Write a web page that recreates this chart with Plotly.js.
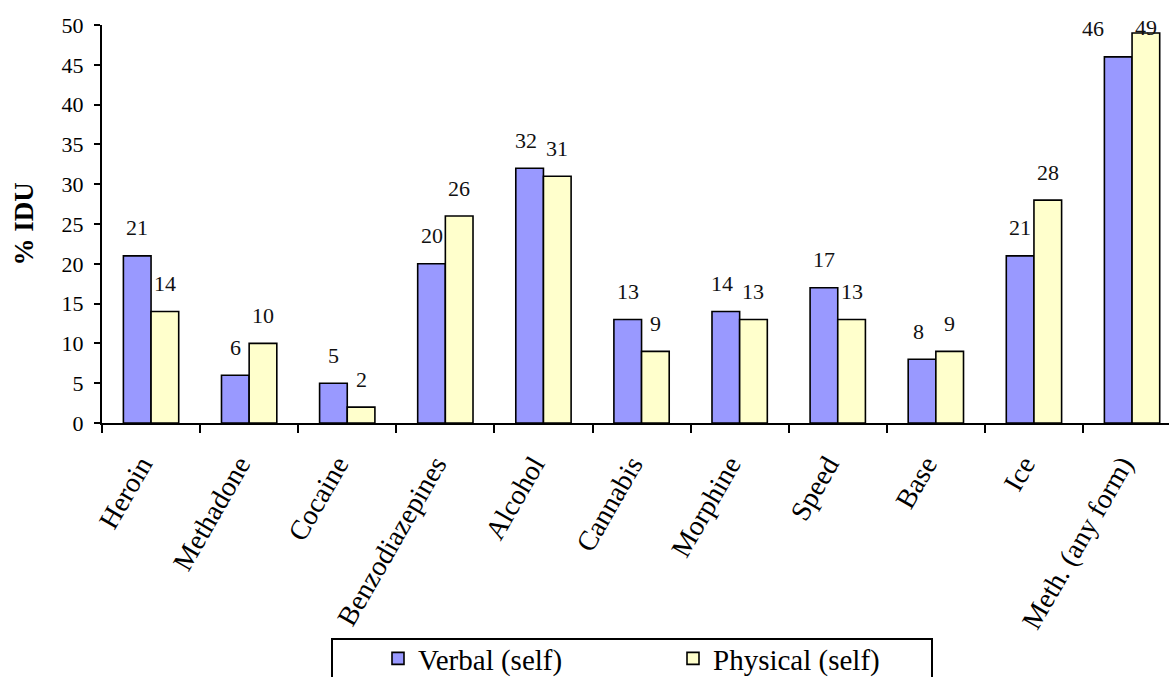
<!DOCTYPE html>
<html>
<head>
<meta charset="utf-8">
<script src="https://cdn.plot.ly/plotly-3.0.1.min.js"></script>
<style>
  html, body { margin: 0; padding: 0; background: #fff; }
  #chart { width: 1169px; height: 677px; }
</style>
</head>
<body>
<div id="chart"></div>
<script>
// ---- data ----
const categories = ["Heroin", "Methadone", "Cocaine", "Benzodiazepines", "Alcohol", "Cannabis",
                    "Morphine", "Speed", "Base", "Ice", "Meth. (any form)"];
const verbalSelf   = [21, 6, 5, 20, 32, 13, 14, 17, 8, 21, 46];
const physicalSelf = [14, 10, 2, 26, 31, 9, 13, 13, 9, 28, 49];
const seriesNames  = ["Verbal (self)", "Physical (self)"];
const yTickVals    = [0, 5, 10, 15, 20, 25, 30, 35, 40, 45, 50];

// ---- style ----
const FONT = "Liberation Serif, Times New Roman, serif";
const W = 1169, H = 677;
const margin = { l: 102, r: 0, t: 25, b: 254, autoexpand: false };
const plotW = W - margin.l - margin.r;
const plotH = H - margin.t - margin.b;
const catPx = 98.1;
const bargap = 0.436;
const yMax = 50;
const pxPerUnit = plotH / yMax;

const xIdx = categories.map((c, i) => i);

const traces = [
  {
    type: "bar", name: seriesNames[0], x: categories, y: verbalSelf,
    marker: { color: "#9999FF", line: { color: "#000", width: 1.6 } },
    hoverinfo: "x+y"
  },
  {
    type: "bar", name: seriesNames[1], x: categories, y: physicalSelf,
    marker: { color: "#FFFFCC", line: { color: "#000", width: 1.6 } },
    hoverinfo: "x+y"
  }
];

// value labels above bars (pushed down when near the top, nudged left when they would collide)
const annotations = [];
const barOff = (1 - bargap) / 4;
const labelShift = v => Math.min(28, (yMax - v) * pxPerUnit - 2);
const labelPxY = v => v * pxPerUnit + labelShift(v);
categories.forEach((c, i) => {
  const vV = verbalSelf[i], vP = physicalSelf[i];
  const dy = Math.abs(labelPxY(vV) - labelPxY(vP));
  const nudge = dy < 9 ? -(9 - dy) * 3.5 : 0;
  [[vV, -barOff, nudge], [vP, barOff, 0]].forEach(([v, off, xs]) => {
    annotations.push({
      x: xIdx[i] + off, y: v, xref: "x", yref: "y",
      text: String(v), showarrow: false,
      yanchor: "middle", xanchor: "center", yshift: labelShift(v), xshift: xs,
      font: { family: FONT, size: 22, color: "#111" }
    });
  });
});

const layout = {
  width: W, height: H,
  margin: margin,
  paper_bgcolor: "#fff", plot_bgcolor: "#fff",
  font: { family: FONT, color: "#000" },
  barmode: "group", bargap: bargap, bargroupgap: 0,
  showlegend: true,
  legend: {
    orientation: "h",
    x: (378 - margin.l) / plotW, xanchor: "left",
    y: -(633 - (H - margin.b)) / plotH, yanchor: "top",
    font: { family: FONT, size: 29, color: "#000" },
    bgcolor: "rgba(0,0,0,0)", borderwidth: 0,
    entrywidth: 250, traceorder: "normal"
  },
  xaxis: {
    type: "category",
    range: [-0.5, -0.5 + plotW / catPx],
    showline: true, linecolor: "#000", linewidth: 2,
    ticks: "outside", tickson: "boundaries", ticklen: 8, tickwidth: 2, tickcolor: "#000",
    tickangle: -60,
    tickfont: { family: FONT, size: 28, color: "#000" },
    ticklabelstandoff: 12,
    ticklabelshift: -10,
    showgrid: false, zeroline: false, fixedrange: true, automargin: false
  },
  yaxis: {
    range: [0, yMax],
    tickvals: yTickVals,
    showline: true, linecolor: "#000", linewidth: 2,
    ticks: "outside", ticklen: 6, tickwidth: 2, tickcolor: "#000",
    tickfont: { family: FONT, size: 22, color: "#000" },
    ticklabelstandoff: 6,
    title: { text: "% IDU", font: { family: FONT, size: 27, color: "#000", weight: "bold" }, standoff: 20 },
    showgrid: false, zeroline: false, fixedrange: true, automargin: false
  },
  shapes: [
    { type: "rect", xref: "paper", yref: "paper",
      x0: (332 - margin.l) / plotW, x1: (932 - margin.l) / plotW,
      y0: -(639 - (H - margin.b)) / plotH, y1: -(700 - (H - margin.b)) / plotH,
      line: { color: "#000", width: 2 }, fillcolor: "rgba(0,0,0,0)", layer: "above" }
  ],
  annotations: annotations
};

Plotly.newPlot("chart", traces, layout, { displayModeBar: false, staticPlot: true });
</script>
</body>
</html>
